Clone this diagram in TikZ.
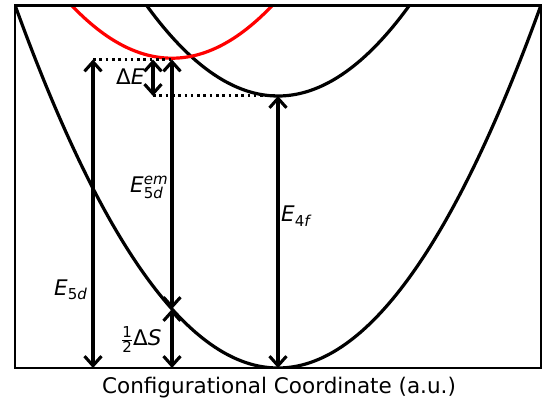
\documentclass[tikz,border=0pt]{standalone}
\usepackage{fontspec}
\setmainfont{DejaVu Sans}
\usetikzlibrary{arrows.meta}
\newcommand\subsz{\fontsize{15}{15}\selectfont}
\begin{document}
\begin{tikzpicture}[x=1pt,y=1pt,
  curve/.style={line width=3.2pt},
  redcurve/.style={line width=3.2pt, red},
  dimarrow/.style={line width=3.1pt, {Straight Barb[length=9.5pt,width=17pt]}-{Straight Barb[length=9.5pt,width=17pt]}},
  dotline/.style={line width=3pt, dash pattern=on 2.6pt off 3.7pt},
  lbl/.style={inner sep=0pt, font=\fontsize{21.5}{24}\selectfont}]
\useasboundingbox (0,0) rectangle (547,405);
% frame corners
\coordinate (bl) at (15,37);
\coordinate (tr) at (541,399.5);
% key points
\coordinate (e5top) at (93,345.5);
\coordinate (e5bot) at (93,37);
\coordinate (redmin) at (172,345.5);
\coordinate (cross) at (172,96);
\coordinate (sbot) at (172,37);
\coordinate (upmin) at (278,309);
\coordinate (gmin) at (278,37);
\coordinate (detop) at (153,345.5);
\coordinate (debot) at (153,309);
\begin{scope}
\clip (bl) rectangle (tr);
\draw[curve] plot[domain=10:546, samples=200] (\x, {37+(0.07244*(\x-278))^2});
\draw[curve] plot[domain=140:420, samples=150] (\x, {309+(0.07244*(\x-278))^2});
\draw[redcurve] plot[domain=60:285, samples=150] (\x, {346.8+(0.07244*(\x-172))^2});
\end{scope}
\draw[line width=2.3pt] (bl) rectangle (tr);
% dotted guides
\draw[dotline] (e5top) -- (redmin);
\draw[dotline] (debot) -- (upmin);
% arrows
\draw[dimarrow] (e5bot) -- (e5top);
\draw[dimarrow] (redmin) -- (cross);
\draw[dimarrow] (cross) -- (sbot);
\draw[dimarrow] (gmin) -- (upmin);
\draw[dimarrow] (detop) -- (debot);
% labels
\node[lbl, anchor=base west] (lE5d) at (54,110) {\textit{E}\raisebox{-0.22em}{\subsz 5\textit{d}}};
\node[lbl, anchor=base west] (lEem) at (130,212.3) {\textit{E}\rlap{\raisebox{0.4em}{\subsz\textit{em}}}\raisebox{-0.25em}{\subsz 5\textit{d}}};
\node[lbl, anchor=base west] (lE4f) at (281,183) {\textit{E}\raisebox{-0.22em}{\subsz 4\textit{f}}};
\node[lbl, anchor=base west] (ldE) at (116,320) {Δ\textit{E}};
\node[lbl, anchor=base west] (ldS) at (121,59.5) {$\frac{\hbox{\subsz 1}}{\hbox{\subsz 2}}$Δ\textit{S}};
\node[lbl, anchor=base, font=\fontsize{21.5}{26}\selectfont] (xlab) at (279,12) {Configurational Coordinate (a.u.)};
\end{tikzpicture}
\end{document}
